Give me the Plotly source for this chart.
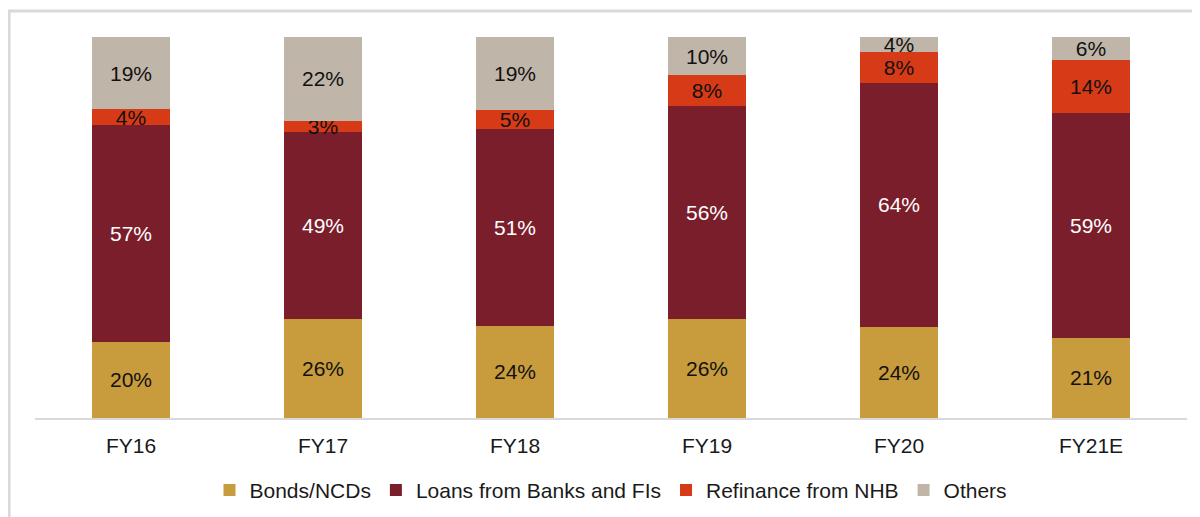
import plotly.graph_objects as go

categories = ["FY16", "FY17", "FY18", "FY19", "FY20", "FY21E"]
bonds = [20, 26, 24, 26, 24, 21]
loans = [57, 49, 51, 56, 64, 59]
refinance = [4, 3, 5, 8, 8, 14]
others = [19, 22, 19, 10, 4, 6]

series = [
    ("Bonds/NCDs", bonds, "#C89B3C", "#111111"),
    ("Loans from Banks and FIs", loans, "#7A1E2B", "#FFFFFF"),
    ("Refinance from NHB", refinance, "#D63A17", "#111111"),
    ("Others", others, "#BFB6A9", "#111111"),
]

FONT = "Liberation Sans, Arial, sans-serif"
FS = 21

fig = go.Figure()
for name, vals, color, tcolor in series:
    fig.add_trace(go.Bar(
        x=categories, y=vals, name=name,
        marker=dict(color=color, line=dict(width=0)),
        text=[f"{v}%" for v in vals],
        texttemplate="%{text}",
        textposition="inside",
        insidetextanchor="middle",
        constraintext="none",
        textangle=0,
        textfont=dict(family=FONT, size=FS, color=tcolor),
        hoverinfo="skip",
    ))

# page body has an 8px margin, so offsets are reduced by 8px
fig.update_layout(
    barmode="stack",
    barnorm="percent",
    bargap=0.594,
    width=1200, height=517,
    margin=dict(l=27, r=21, t=29, b=107),
    paper_bgcolor="white",
    plot_bgcolor="white",
    font=dict(family=FONT, size=FS, color="#1a1a1a"),
    showlegend=True,
    legend=dict(
        orientation="h", x=0.5, xanchor="center", y=-0.19, yanchor="middle",
        font=dict(family=FONT, size=FS, color="#1a1a1a"),
        itemwidth=30, traceorder="normal", itemclick=False,
    ),
    xaxis=dict(
        showline=True, linecolor="#D9D9D9", linewidth=2,
        ticks="", showgrid=False, zeroline=False,
        tickfont=dict(family=FONT, size=FS, color="#1a1a1a"),
        ticklabelstandoff=8,
    ),
    yaxis=dict(
        range=[0, 100], visible=False, showgrid=False, zeroline=False,
    ),
    shapes=[dict(
        type="rect", xref="paper", yref="paper",
        x0=-0.0225, x1=1.03, y0=-0.32, y1=1.068,
        line=dict(color="#D9D9D9", width=3), fillcolor="rgba(0,0,0,0)",
        layer="below",
    )],
)

fig.write_html("out.html")
